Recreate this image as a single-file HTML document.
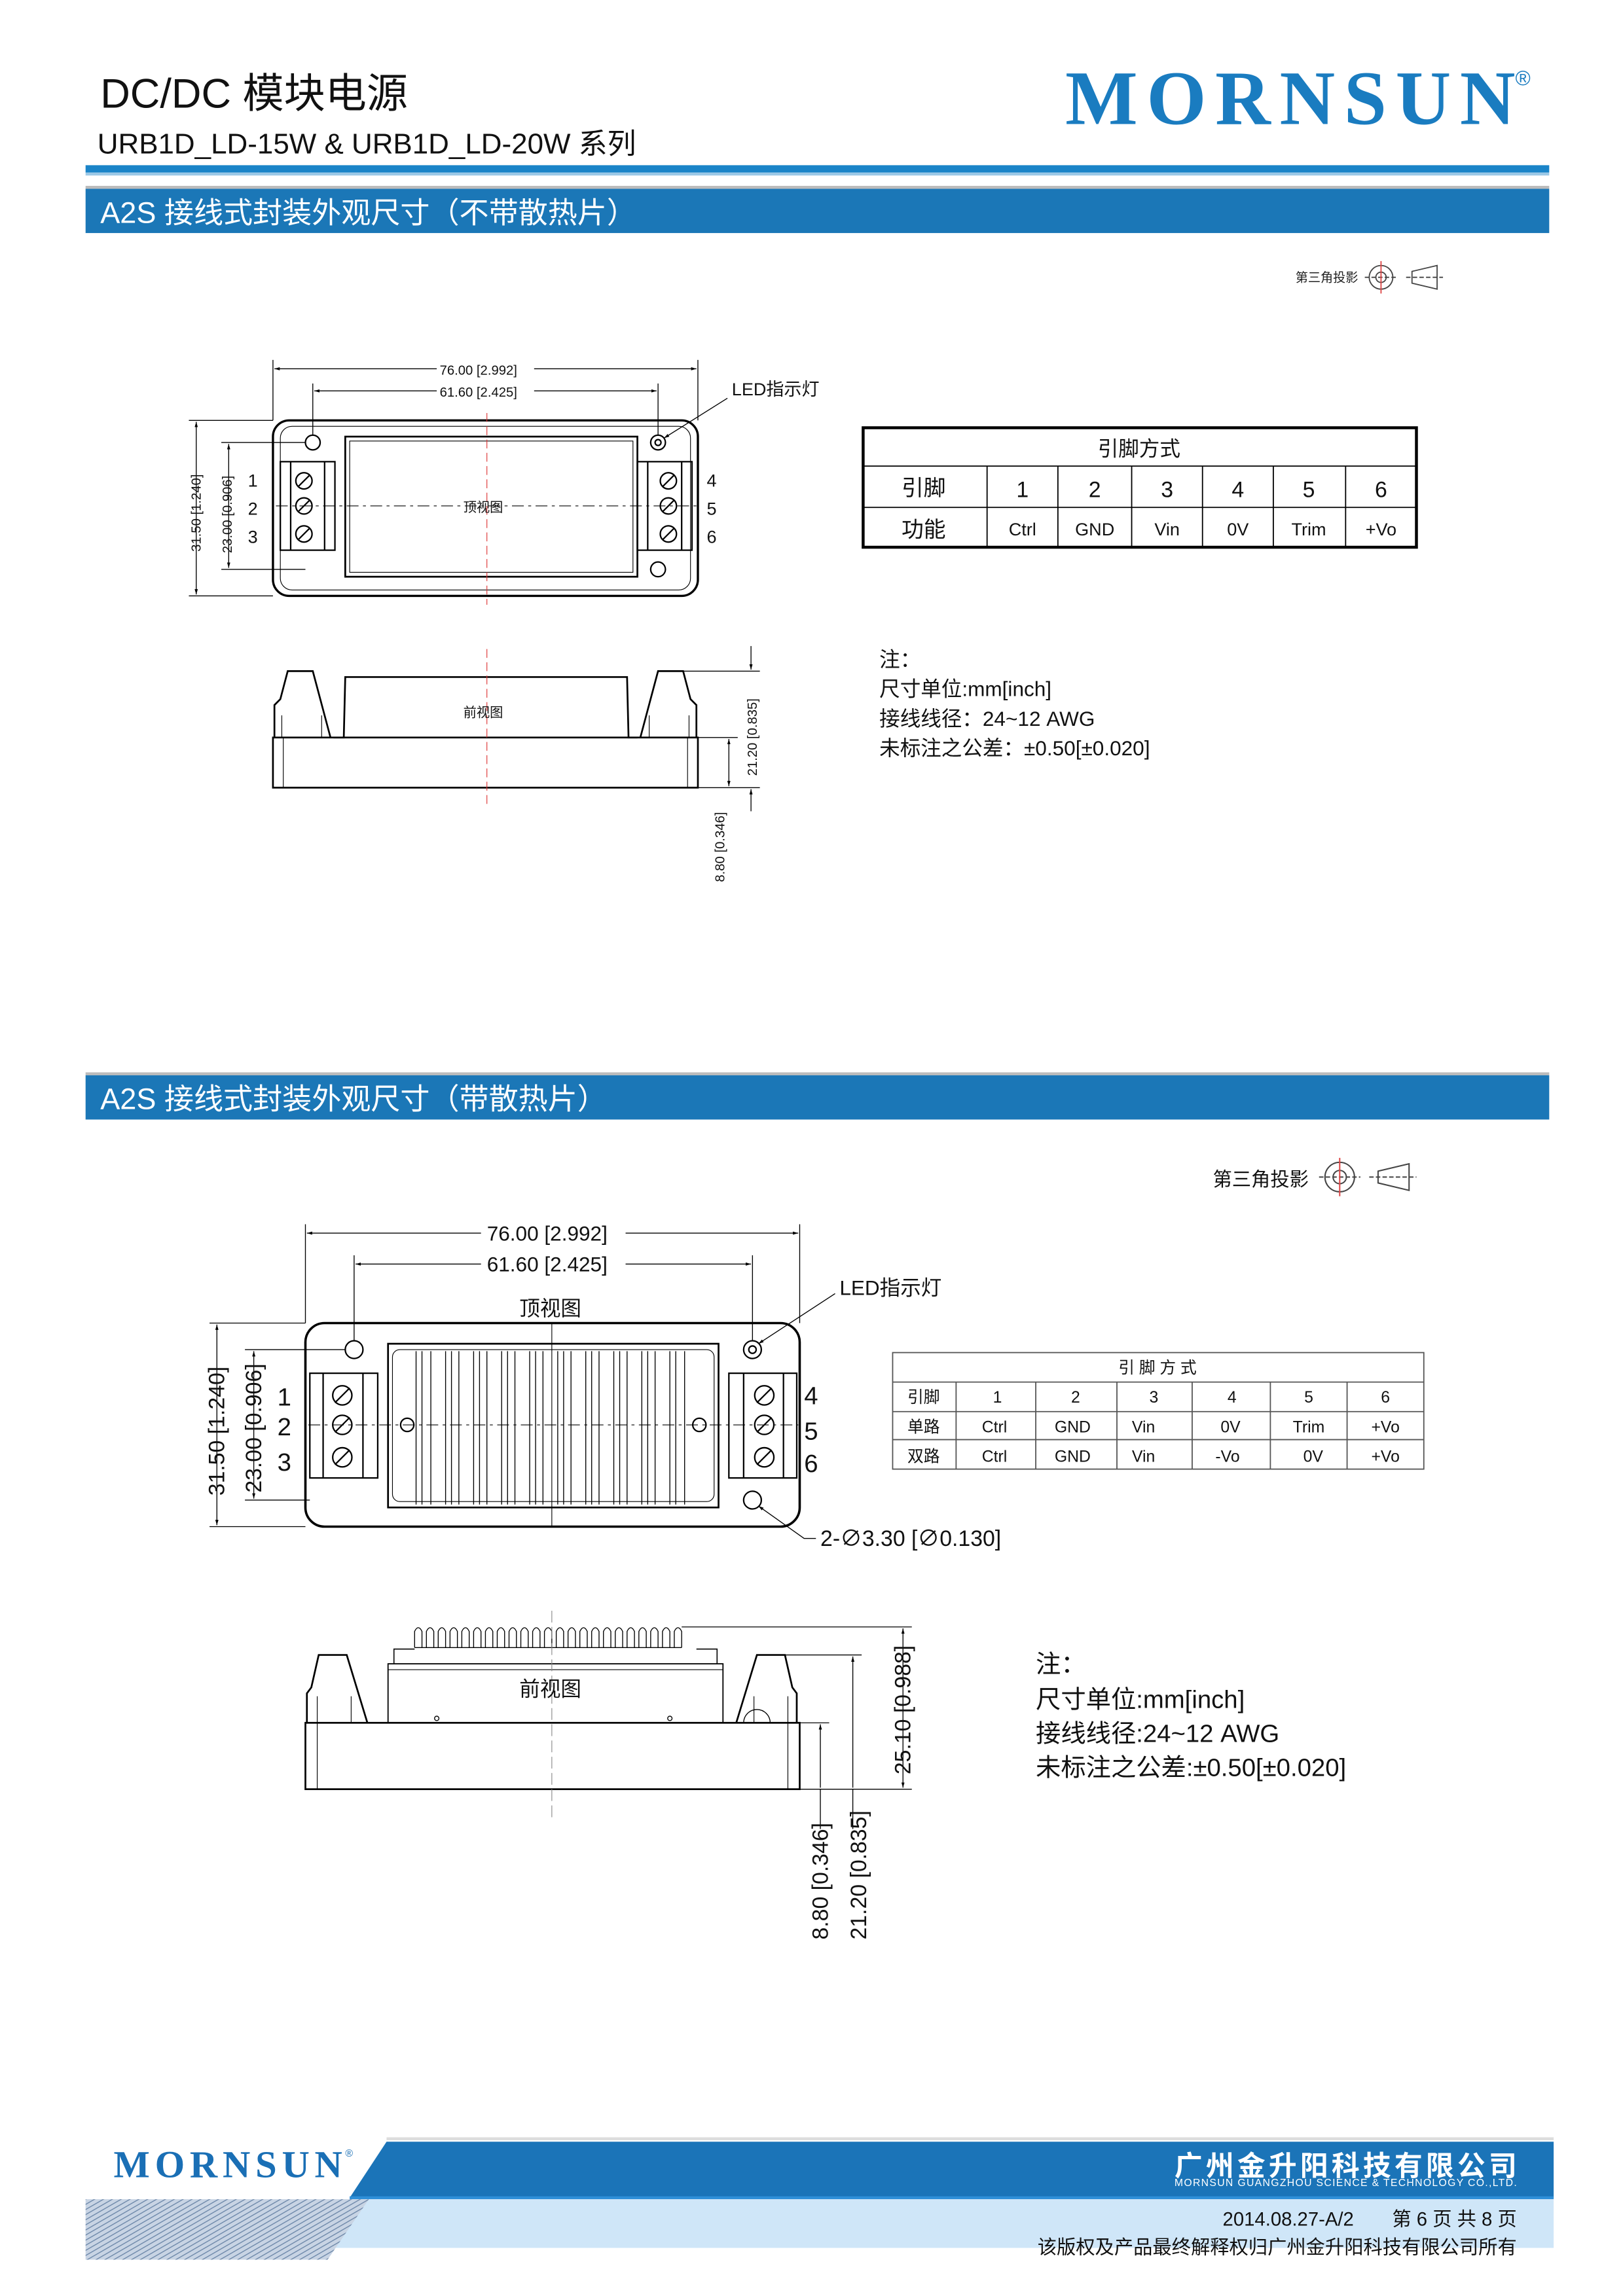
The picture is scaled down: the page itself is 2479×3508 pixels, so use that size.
<!DOCTYPE html>
<html><head><meta charset="utf-8"><style>
html,body{margin:0;padding:0;background:#fff}
svg{display:block}
text{font-family:"Liberation Sans","Noto Sans CJK SC",sans-serif}
</style></head><body>
<svg width="2479" height="3508" viewBox="0 0 1100 1556.6" preserveAspectRatio="none" xmlns="http://www.w3.org/2000/svg">
<defs>
<marker id="ar" viewBox="0 0 10 10" refX="10" refY="5" markerWidth="6" markerHeight="6" orient="auto-start-reverse"><path d="M0,2 L10,5 L0,8 z" fill="#000"/></marker>
<pattern id="hatch" width="3" height="3" patternUnits="userSpaceOnUse" patternTransform="rotate(60)"><rect width="3" height="3" fill="#c8d4e4"/><line x1="0" y1="0" x2="0" y2="3" stroke="#6b86a8" stroke-width="1.2"/></pattern>
</defs>

<!-- Header -->
<text x="68" y="73" font-size="28" fill="#111">DC/DC 模块电源</text>
<text x="66" y="104" font-size="19.5" fill="#111">URB1D_LD-15W &amp; URB1D_LD-20W 系列</text>
<text x="722" y="84" font-size="52" font-weight="bold" fill="#1a7cc0" style="font-family:'Liberation Serif',serif" textLength="305">MORNSUN</text>
<text x="1027" y="58" font-size="14" fill="#1a7cc0">®</text>
<rect x="58" y="112" width="992" height="5" fill="#1a84c8"/>
<rect x="58" y="117" width="992" height="2" fill="#9cc8e6"/>

<!-- Section 1 banner -->
<rect x="58" y="128" width="992" height="30" fill="#1b77b7"/>
<rect x="58" y="126" width="992" height="2" fill="#bbb"/>
<text x="68" y="151" font-size="20" fill="#fff">A2S 接线式封装外观尺寸（不带散热片）</text>

<!-- third angle 1 -->
<text x="878" y="191" font-size="8.5" fill="#222">第三角投影</text>
<g stroke="#444" fill="none" stroke-width="0.8">
<circle cx="936" cy="188" r="8"/><circle cx="936" cy="188" r="3.5"/>
<line x1="925" y1="188" x2="947" y2="188" stroke-dasharray="3,1.5"/>
<line x1="936" y1="177" x2="936" y2="199" stroke="#d44"/>
<path d="M957,184 L974,180 L974,196 L957,192 Z"/>
<line x1="953" y1="188" x2="978" y2="188" stroke-dasharray="3,1.5"/>
</g>

<!-- Top view 1 -->
<g stroke="#000" fill="none" stroke-width="1">
<rect x="185" y="285" width="288" height="119" rx="11" stroke-width="1.5"/>
<rect x="190" y="289" width="278" height="111" rx="8" stroke-width="0.5"/>
<rect x="234" y="296" width="198" height="95" stroke-width="1.2"/>
<rect x="237" y="299" width="192" height="89" stroke-width="0.5"/>
<circle cx="212" cy="300" r="5"/><circle cx="446" cy="300" r="5"/><circle cx="446" cy="300" r="2"/><circle cx="446" cy="386" r="5"/>
<rect x="190" y="313" width="37" height="60"/><line x1="197" y1="313" x2="197" y2="373"/><line x1="220" y1="313" x2="220" y2="373"/>
<rect x="432" y="313" width="37" height="60"/><line x1="439" y1="313" x2="439" y2="373"/><line x1="462" y1="313" x2="462" y2="373"/>
<circle cx="206" cy="326" r="5.5"/><circle cx="206" cy="343" r="5.5"/><circle cx="206" cy="362" r="5.5"/>
<circle cx="453" cy="326" r="5.5"/><circle cx="453" cy="343" r="5.5"/><circle cx="453" cy="362" r="5.5"/>
<path d="M202,330 L210,322 M202,347 L210,339 M202,366 L210,358 M449,330 L457,322 M449,347 L457,339 M449,366 L457,358"/>
<line x1="187" y1="343" x2="472" y2="343" stroke-width="0.5" stroke-dasharray="8,3,2,3"/>
<line x1="330" y1="280" x2="330" y2="410" stroke="#d33" stroke-width="0.5" stroke-dasharray="6,3"/>
<g stroke-width="0.6">
<line x1="185" y1="244" x2="185" y2="285"/><line x1="473" y1="244" x2="473" y2="285"/>
<line x1="212" y1="260" x2="212" y2="295"/><line x1="446" y1="260" x2="446" y2="295"/>
<line x1="186" y1="250" x2="296" y2="250" marker-start="url(#ar)"/><line x1="362" y1="250" x2="472" y2="250" marker-end="url(#ar)"/>
<line x1="213" y1="265" x2="296" y2="265" marker-start="url(#ar)"/><line x1="362" y1="265" x2="445" y2="265" marker-end="url(#ar)"/>
<line x1="128" y1="285" x2="185" y2="285"/><line x1="128" y1="404" x2="185" y2="404"/>
<line x1="150" y1="300" x2="207" y2="300"/><line x1="150" y1="386" x2="207" y2="386"/>
<line x1="133" y1="286" x2="133" y2="403" marker-start="url(#ar)" marker-end="url(#ar)"/>
<line x1="155" y1="301" x2="155" y2="385" marker-start="url(#ar)" marker-end="url(#ar)"/>
<line x1="450" y1="297" x2="493" y2="270" marker-start="url(#ar)"/>
</g>
</g>
<g font-size="9" fill="#111">
<text x="298" y="254">76.00 [2.992]</text>
<text x="298" y="269">61.60 [2.425]</text>
<text x="314" y="347">顶视图</text>
<text transform="translate(136,374) rotate(-90)">31.50 [1.240]</text>
<text transform="translate(157,375) rotate(-90)">23.00 [0.906]</text>
</g>
<g font-size="12" fill="#111">
<text x="168" y="330">1</text><text x="168" y="349">2</text><text x="168" y="368">3</text>
<text x="479" y="330">4</text><text x="479" y="349">5</text><text x="479" y="368">6</text>
<text x="496" y="268" font-size="12">LED指示灯</text>
</g>

<!-- Table 1 -->
<g stroke="#000" fill="none">
<rect x="585" y="290" width="375" height="81" stroke-width="2"/>
<line x1="585" y1="316" x2="960" y2="316" stroke-width="0.8"/>
<line x1="585" y1="344" x2="960" y2="344" stroke-width="0.8"/>
<g stroke-width="0.8">
<line x1="669" y1="316" x2="669" y2="371"/><line x1="717" y1="316" x2="717" y2="371"/><line x1="767" y1="316" x2="767" y2="371"/>
<line x1="815" y1="316" x2="815" y2="371"/><line x1="863" y1="316" x2="863" y2="371"/><line x1="912" y1="316" x2="912" y2="371"/>
</g></g>
<g fill="#111" text-anchor="middle">
<text x="772" y="309" font-size="14">引脚方式</text>
<text x="626" y="336" font-size="15">引脚</text>
<text x="626" y="364" font-size="15">功能</text>
<g font-size="15"><text x="693" y="337">1</text><text x="742" y="337">2</text><text x="791" y="337">3</text><text x="839" y="337">4</text><text x="887" y="337">5</text><text x="936" y="337">6</text></g>
<g font-size="12"><text x="693" y="363">Ctrl</text><text x="742" y="363">GND</text><text x="791" y="363">Vin</text><text x="839" y="363">0V</text><text x="887" y="363">Trim</text><text x="936" y="363">+Vo</text></g>
</g>

<!-- Front view 1 -->
<g stroke="#000" fill="none" stroke-width="1.2">
<rect x="185" y="500" width="288" height="34"/>
<line x1="192" y1="500" x2="192" y2="534" stroke-width="0.5"/><line x1="466" y1="500" x2="466" y2="534" stroke-width="0.5"/>
<path d="M186,500 L186,478 L190,474 L195,455 L212,455 L224,500"/>
<path d="M472,500 L472,478 L468,474 L463,455 L446,455 L434,500"/>
<path d="M226,500 L233,500 L234,459 L425,459 L426,500 L432,500"/>
<line x1="191" y1="485" x2="191" y2="500" stroke-width="0.5"/><line x1="218" y1="485" x2="218" y2="500" stroke-width="0.5"/>
<line x1="440" y1="485" x2="440" y2="500" stroke-width="0.5"/><line x1="467" y1="485" x2="467" y2="500" stroke-width="0.5"/>
<line x1="330" y1="440" x2="330" y2="545" stroke="#d33" stroke-width="0.5" stroke-dasharray="6,3"/>
<g stroke-width="0.6">
<line x1="463" y1="455" x2="515" y2="455"/><line x1="473" y1="500" x2="500" y2="500"/><line x1="473" y1="534" x2="515" y2="534"/>
<line x1="509" y1="438" x2="509" y2="454" marker-end="url(#ar)"/>
<line x1="509" y1="550" x2="509" y2="535" marker-end="url(#ar)"/>
<line x1="494" y1="501" x2="494" y2="533" marker-start="url(#ar)" marker-end="url(#ar)"/>
</g></g>
<g font-size="9" fill="#111">
<text x="314" y="486">前视图</text>
<text transform="translate(513,526) rotate(-90)">21.20 [0.835]</text>
<text transform="translate(491,598) rotate(-90)">8.80 [0.346]</text>
</g>

<!-- Notes 1 -->
<g font-size="14" fill="#111">
<text x="596" y="452">注：</text>
<text x="596" y="472">尺寸单位:mm[inch]</text>
<text x="596" y="492">接线线径：24~12 AWG</text>
<text x="596" y="512">未标注之公差：±0.50[±0.020]</text>
</g>

<!-- Section 2 banner -->
<rect x="58" y="727" width="992" height="2" fill="#bbb"/>
<rect x="58" y="729" width="992" height="30" fill="#1b77b7"/>
<text x="68" y="752" font-size="20" fill="#fff">A2S 接线式封装外观尺寸（带散热片）</text>

<!-- third angle 2 -->
<text x="822" y="804" font-size="13" fill="#111">第三角投影</text>
<g stroke="#444" fill="none" stroke-width="0.9">
<circle cx="908" cy="798" r="10"/><circle cx="908" cy="798" r="4.5"/>
<line x1="894" y1="798" x2="922" y2="798" stroke-dasharray="3,1.5"/>
<line x1="908" y1="785" x2="908" y2="811" stroke="#d44"/>
<path d="M934,794 L955,789 L955,807 L934,802 Z"/>
<line x1="928" y1="798" x2="960" y2="798" stroke-dasharray="3,1.5"/>
</g>

<!-- Top view 2 -->
<g stroke="#000" fill="none" stroke-width="1">
<rect x="207" y="897" width="335" height="138" rx="13" stroke-width="1.6"/>
<rect x="263" y="911" width="224" height="111" stroke-width="1.2"/>
<rect x="266" y="915" width="218" height="103" rx="5" stroke-width="0.5"/>
<g stroke-width="0.6">
<path d="M282,916V1020M286,916V1020M302,916V1020M306,916V1020M321,916V1020M325,916V1020M340,916V1020M344,916V1020M359,916V1020M363,916V1020M378,916V1020M382,916V1020M397,916V1020M401,916V1020M416,916V1020M420,916V1020M435,916V1020M439,916V1020M454,916V1020M458,916V1020M464,916V1020M292,916V1020M311,916V1020M330,916V1020M349,916V1020M368,916V1020M387,916V1020M406,916V1020M425,916V1020M444,916V1020"/>
</g>
<circle cx="240" cy="915" r="6"/><circle cx="510" cy="915" r="6"/><circle cx="510" cy="915" r="2.5"/><circle cx="510" cy="1017" r="6"/>
<circle cx="276" cy="966" r="4.5"/><circle cx="474" cy="966" r="4.5"/>
<rect x="210" y="931" width="46" height="71"/><line x1="219" y1="931" x2="219" y2="1002"/><line x1="246" y1="931" x2="246" y2="1002"/>
<rect x="494" y="931" width="46" height="71"/><line x1="504" y1="931" x2="504" y2="1002"/><line x1="531" y1="931" x2="531" y2="1002"/>
<circle cx="232" cy="946" r="6.5"/><circle cx="232" cy="966" r="6.5"/><circle cx="232" cy="988" r="6.5"/>
<circle cx="518" cy="946" r="6.5"/><circle cx="518" cy="966" r="6.5"/><circle cx="518" cy="988" r="6.5"/>
<path d="M227,951 L237,941 M227,971 L237,961 M227,993 L237,983 M513,951 L523,941 M513,971 L523,961 M513,993 L523,983"/>
<line x1="209" y1="966" x2="541" y2="966" stroke-width="0.5" stroke-dasharray="8,3,2,3"/>
<line x1="374" y1="897" x2="374" y2="1035" stroke-width="0.5"/>
<g stroke-width="0.6">
<line x1="207" y1="830" x2="207" y2="897"/><line x1="542" y1="830" x2="542" y2="897"/>
<line x1="240" y1="851" x2="240" y2="909"/><line x1="510" y1="851" x2="510" y2="909"/>
<line x1="208" y1="836" x2="326" y2="836" marker-start="url(#ar)"/><line x1="424" y1="836" x2="541" y2="836" marker-end="url(#ar)"/>
<line x1="241" y1="857" x2="326" y2="857" marker-start="url(#ar)"/><line x1="424" y1="857" x2="509" y2="857" marker-end="url(#ar)"/>
<line x1="142" y1="897" x2="207" y2="897"/><line x1="142" y1="1035" x2="207" y2="1035"/>
<line x1="166" y1="915" x2="234" y2="915"/><line x1="166" y1="1017" x2="210" y2="1017"/>
<line x1="147" y1="898" x2="147" y2="1034" marker-start="url(#ar)" marker-end="url(#ar)"/>
<line x1="172" y1="916" x2="172" y2="1016" marker-start="url(#ar)" marker-end="url(#ar)"/>
<line x1="514" y1="911" x2="566" y2="877" marker-start="url(#ar)"/>
<path d="M514,1021 L545,1043 L553,1043" marker-start="url(#ar)"/>
</g></g>
<g fill="#111">
<text x="330" y="841" font-size="14">76.00 [2.992]</text>
<text x="330" y="862" font-size="14">61.60 [2.425]</text>
<text x="352" y="892" font-size="14">顶视图</text>
<text transform="translate(152,1014) rotate(-90)" font-size="15">31.50 [1.240]</text>
<text transform="translate(177,1012) rotate(-90)" font-size="15">23.00 [0.906]</text>
<g font-size="17"><text x="188" y="953">1</text><text x="188" y="973">2</text><text x="188" y="997">3</text>
<text x="545" y="952">4</text><text x="545" y="976">5</text><text x="545" y="998">6</text></g>
<text x="569" y="878" font-size="14">LED指示灯</text>
<text x="556" y="1048" font-size="15">2-∅3.30 [∅0.130]</text>
</g>

<!-- Table 2 -->
<g stroke="#555" fill="none" stroke-width="0.8">
<rect x="605" y="917" width="360" height="79"/>
<line x1="605" y1="937" x2="965" y2="937"/><line x1="605" y1="957" x2="965" y2="957"/><line x1="605" y1="976" x2="965" y2="976"/>
<line x1="648" y1="937" x2="648" y2="996"/><line x1="702" y1="937" x2="702" y2="996"/><line x1="757" y1="937" x2="757" y2="996"/>
<line x1="808" y1="937" x2="808" y2="996"/><line x1="861" y1="937" x2="861" y2="996"/><line x1="913" y1="937" x2="913" y2="996"/>
</g>
<g fill="#111" text-anchor="middle" font-size="11">
<text x="786" y="931" letter-spacing="3">引脚方式</text>
<text x="626" y="951">引脚</text><text x="626" y="971">单路</text><text x="626" y="991">双路</text>
<text x="676" y="951">1</text><text x="729" y="951">2</text><text x="782" y="951">3</text><text x="835" y="951">4</text><text x="887" y="951">5</text><text x="939" y="951">6</text>
<text x="674" y="971">Ctrl</text><text x="727" y="971">GND</text><text x="775" y="971">Vin</text><text x="834" y="971">0V</text><text x="887" y="971">Trim</text><text x="939" y="971">+Vo</text>
<text x="674" y="991">Ctrl</text><text x="727" y="991">GND</text><text x="775" y="991">Vin</text><text x="832" y="991">-Vo</text><text x="890" y="991">0V</text><text x="939" y="991">+Vo</text>
</g>

<!-- Front view 2 -->
<g stroke="#000" fill="none" stroke-width="1.2">
<rect x="207" y="1168" width="335" height="45"/>
<line x1="215" y1="1168" x2="215" y2="1213" stroke-width="0.5"/><line x1="534" y1="1168" x2="534" y2="1213" stroke-width="0.5"/>
<path d="M208,1168 L208,1148 L211,1144 L216,1122 L235,1122 L249,1168"/>
<path d="M540,1168 L540,1148 L537,1144 L532,1122 L513,1122 L499,1168"/>
<line x1="215" y1="1150" x2="215" y2="1168" stroke-width="0.5"/><line x1="238" y1="1150" x2="238" y2="1168" stroke-width="0.5"/>
<line x1="511" y1="1150" x2="511" y2="1168" stroke-width="0.5"/><line x1="534" y1="1150" x2="534" y2="1168" stroke-width="0.5"/>
<path d="M504,1168 A9,9 0 0 1 522,1168" stroke-width="0.6"/>
<rect x="263" y="1128" width="227" height="40" stroke-width="0.8"/>
<line x1="263" y1="1132" x2="490" y2="1132" stroke-width="0.5"/>
<path d="M267,1128 L267,1118 L281,1118 M486,1128 L486,1118 L472,1118" stroke-width="0.7"/>
<path stroke-width="0.6" d="M281,1117 L281,1106 Q283.5,1101 286,1106 L286,1117 M289,1117 L289,1106 Q291.5,1101 294,1106 L294,1117 M297,1117 L297,1106 Q299.5,1101 302,1106 L302,1117 M305,1117 L305,1106 Q307.5,1101 310,1106 L310,1117 M313,1117 L313,1106 Q315.5,1101 318,1106 L318,1117 M321,1117 L321,1106 Q323.5,1101 326,1106 L326,1117 M329,1117 L329,1106 Q331.5,1101 334,1106 L334,1117 M337,1117 L337,1106 Q339.5,1101 342,1106 L342,1117 M345,1117 L345,1106 Q347.5,1101 350,1106 L350,1117 M353,1117 L353,1106 Q355.5,1101 358,1106 L358,1117 M361,1117 L361,1106 Q363.5,1101 366,1106 L366,1117 M369,1117 L369,1106 Q371.5,1101 374,1106 L374,1117 M377,1117 L377,1106 Q379.5,1101 382,1106 L382,1117 M385,1117 L385,1106 Q387.5,1101 390,1106 L390,1117 M393,1117 L393,1106 Q395.5,1101 398,1106 L398,1117 M401,1117 L401,1106 Q403.5,1101 406,1106 L406,1117 M409,1117 L409,1106 Q411.5,1101 414,1106 L414,1117 M417,1117 L417,1106 Q419.5,1101 422,1106 L422,1117 M425,1117 L425,1106 Q427.5,1101 430,1106 L430,1117 M433,1117 L433,1106 Q435.5,1101 438,1106 L438,1117 M441,1117 L441,1106 Q443.5,1101 446,1106 L446,1117 M449,1117 L449,1106 Q451.5,1101 454,1106 L454,1117 M457,1117 L457,1106 Q459.5,1101 462,1106 L462,1117 M281,1117 L462,1117"/>
<circle cx="296" cy="1165" r="1.5" stroke-width="0.6"/><circle cx="454" cy="1165" r="1.5" stroke-width="0.6"/>
<line x1="374" y1="1092" x2="374" y2="1232" stroke="#888" stroke-width="0.5" stroke-dasharray="8,3"/>
<g stroke-width="0.6">
<line x1="462" y1="1103" x2="618" y2="1103"/><line x1="532" y1="1122" x2="584" y2="1122"/><line x1="542" y1="1168" x2="562" y2="1168"/><line x1="542" y1="1213" x2="618" y2="1213"/>
<line x1="612" y1="1104" x2="612" y2="1212" marker-start="url(#ar)" marker-end="url(#ar)"/>
<line x1="578" y1="1123" x2="578" y2="1212" marker-start="url(#ar)"/>
<line x1="578" y1="1213" x2="578" y2="1240"/>
<line x1="556" y1="1169" x2="556" y2="1212" marker-start="url(#ar)"/>
<line x1="556" y1="1213" x2="556" y2="1240"/>
</g></g>
<g fill="#111">
<text x="352" y="1150" font-size="14">前视图</text>
<text transform="translate(617,1203) rotate(-90)" font-size="15">25.10 [0.988]</text>
<text transform="translate(561,1315) rotate(-90)" font-size="15">8.80 [0.346]</text>
<text transform="translate(587,1315) rotate(-90)" font-size="15">21.20 [0.835]</text>
</g>

<!-- Notes 2 -->
<g font-size="17" fill="#111">
<text x="702" y="1134">注：</text>
<text x="702" y="1158">尺寸单位:mm[inch]</text>
<text x="702" y="1181">接线线径:24~12 AWG</text>
<text x="702" y="1204">未标注之公差:±0.50[±0.020]</text>
</g>

<!-- Footer -->
<rect x="262" y="1449" width="791" height="2" fill="#ddd"/>
<polygon points="262,1452 1053,1452 1053,1490 237,1490" fill="#1b74b8"/>
<rect x="237" y="1489" width="816" height="2" fill="#2e8fd8"/>
<polygon points="237,1491 1053,1491 1053,1524 215,1524" fill="#cfe6f8"/>
<polygon points="58,1491 250,1491 222,1532 58,1532" fill="url(#hatch)"/>
<text x="77" y="1476" font-size="26" font-weight="bold" fill="#1a6fb5" style="font-family:'Liberation Serif',serif" textLength="155">MORNSUN</text>
<text x="234" y="1462" font-size="7" fill="#1a6fb5">®</text>
<text x="1028" y="1475" font-size="19" font-weight="bold" fill="#fff" text-anchor="end" textLength="232">广州金升阳科技有限公司</text>
<text x="1028" y="1482" font-size="7" fill="#fff" text-anchor="end" textLength="232">MORNSUN GUANGZHOU SCIENCE &amp; TECHNOLOGY CO.,LTD.</text>
<text x="1028" y="1509" font-size="13" fill="#111" text-anchor="end">2014.08.27-A/2　　第 6 页 共 8 页</text>
<text x="1028" y="1528" font-size="13" fill="#111" text-anchor="end">该版权及产品最终解释权归广州金升阳科技有限公司所有</text>
</svg>
</body></html>
